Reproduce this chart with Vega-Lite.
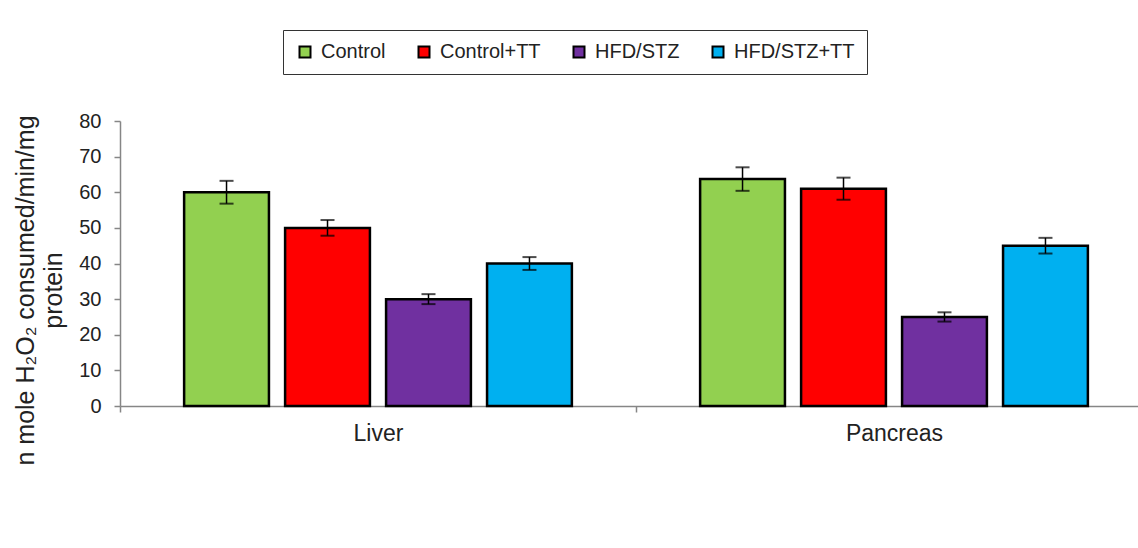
{
  "$schema": "https://vega.github.io/schema/vega-lite/v6.json",
  "width": 1018,
  "height": 285,
  "autosize": {"type": "none"},
  "padding": {"left": 120, "top": 121, "right": 0, "bottom": 142},
  "background": "white",
  "config": {"view": {"stroke": null}, "font": "Liberation Sans", "axisY": {"labelOverlap": false, "tickCount": 8}},
  "data": {"values": [
    {"organ": "Liver", "group": "Control", "value": 60, "lo": 56.8, "hi": 63.2},
    {"organ": "Liver", "group": "Control+TT", "value": 50, "lo": 47.8, "hi": 52.2},
    {"organ": "Liver", "group": "HFD/STZ", "value": 30, "lo": 28.6, "hi": 31.4},
    {"organ": "Liver", "group": "HFD/STZ+TT", "value": 40, "lo": 38.2, "hi": 41.8},
    {"organ": "Pancreas", "group": "Control", "value": 63.7, "lo": 60.4, "hi": 67.0},
    {"organ": "Pancreas", "group": "Control+TT", "value": 61, "lo": 57.9, "hi": 64.1},
    {"organ": "Pancreas", "group": "HFD/STZ", "value": 25, "lo": 23.7, "hi": 26.3},
    {"organ": "Pancreas", "group": "HFD/STZ+TT", "value": 45, "lo": 42.8, "hi": 47.2}
  ]},
  "encoding": {
    "x": {
      "field": "organ", "type": "nominal", "sort": ["Liver", "Pancreas"],
      "scale": {"range": [0, 1032], "paddingInner": 0, "paddingOuter": 0},
      "axis": {
        "title": null, "labelAngle": 0, "labelFontSize": 23, "labelColor": "#222",
        "labelPadding": 10, "tickBand": "extent", "tickSize": 6,
        "domainColor": "#868686", "tickColor": "#868686", "domainWidth": 1.5, "tickWidth": 1.5
      }
    },
    "xOffset": {
      "field": "group", "type": "nominal",
      "sort": ["Control", "Control+TT", "HFD/STZ", "HFD/STZ+TT"],
      "scale": {"paddingInner": 0.16, "paddingOuter": 0.635}
    }
  },
  "layer": [
    {
      "mark": {"type": "bar", "stroke": "black", "strokeWidth": 2.5},
      "encoding": {
        "y": {
          "field": "value", "type": "quantitative",
          "scale": {"domain": [0, 80], "nice": false, "zero": true},
          "axis": {
            "title": ["n mole H₂O₂ consumed/min/mg", "protein"],
            "tickCount": 8,
            "labelOverlap": false,
            "labelSeparation": 0,
            "grid": false, "labelFontSize": 20, "labelColor": "#222", "labelPadding": 13,
            "tickSize": 6, "domainColor": "#868686", "tickColor": "#868686", "domainWidth": 1.5, "tickWidth": 1.5,
            "titleFontSize": 25, "titleFontWeight": "normal", "titleColor": "#222",
            "titleLineHeight": 28, "titleX": -82, "titleY": 169
          }
        },
        "fill": {
          "field": "group", "type": "nominal",
          "sort": ["Control", "Control+TT", "HFD/STZ", "HFD/STZ+TT"],
          "scale": {
            "domain": ["Control", "Control+TT", "HFD/STZ", "HFD/STZ+TT"],
            "range": ["#92D050", "#FF0000", "#7030A0", "#00B0F0"]
          },
          "legend": {
            "orient": "none", "legendX": 163, "legendY": -91, "direction": "horizontal",
            "title": null, "symbolType": "square", "symbolSize": 121,
            "symbolStrokeColor": "black", "symbolStrokeWidth": 2,
            "labelFontSize": 20, "labelColor": "#222", "labelOffset": 6, "columnPadding": 28,
            "strokeColor": "#333", "fillColor": "white", "padding": 12
          }
        }
      }
    },
    {
      "mark": {"type": "rule", "color": "black", "strokeWidth": 1.5},
      "encoding": {
        "y": {"field": "lo", "type": "quantitative"},
        "y2": {"field": "hi"}
      }
    },
    {
      "mark": {"type": "tick", "color": "black", "thickness": 2, "size": 14},
      "encoding": {"y": {"field": "hi", "type": "quantitative"}}
    },
    {
      "mark": {"type": "tick", "color": "black", "thickness": 2, "size": 14},
      "encoding": {"y": {"field": "lo", "type": "quantitative"}}
    }
  ]
}
